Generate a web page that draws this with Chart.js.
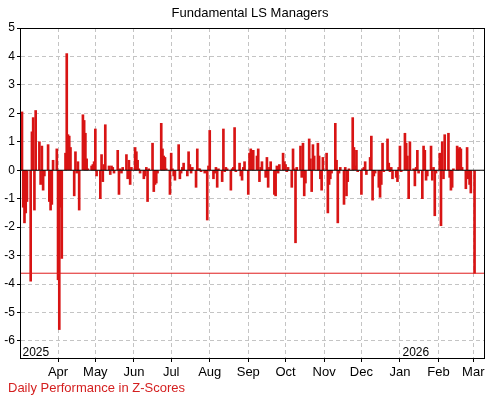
<!DOCTYPE html>
<html>
<head>
<meta charset="utf-8">
<script src="https://cdn.jsdelivr.net/npm/chart.js@4.4.1/dist/chart.umd.min.js"></script>
<style>
  html, body { margin:0; padding:0; background:#fff; }
  #wrap { width:500px; height:399px; position:relative; }
</style>
</head>
<body>
<div id="wrap"><canvas id="chart" width="500" height="399"></canvas></div>
<script>
/* ── 데이터 : 월별 일간 Z-Score (영업일 순서) ───────────────── */
var firstDay = '2025-03-03';
var mar25 = [2.05,-1.3,-1.85,-1.5,-1.1, -3.9,1.35,1.85,-1.4,2.1, 1.0,-0.5,0.85,-0.7,-0.2, 0.9,-1.1,-1.4,-1.2,0.35, 0.75];
var apr25 = [-3.85,-5.6,-1.3,-3.1, 0.6,4.1,1.25,1.2,0.8, -0.9,0.65,-0.1,0.3,-1.4, 1.95,1.75,1.3,0.4,0.05, 0.15,0.2,0.3];
var may25 = [1.45,-0.2, -1.0,0.55,-0.4,0.2,1.6, 0.15,-0.15,0.15,0.1,-0.1, 0.7,-0.85,0.05,-0.1,0.1, 0.55,-0.3,0.35,-0.5,0.1];
var jun25 = [0.8,0.65,0.35,0.05,-0.1, -0.3,-0.2,0.1,-1.1,0.05, 0.95,-0.75,-0.5,-0.45,-0.1, 1.65,0.75,0.5,0.45,0.05, -0.85];
var jul25 = [0.6,0.05,-0.2,-0.35, 0.9,-0.3,-0.1,0.1,0.25, -0.2,0.65,0.2,-0.1,0.1, -0.6,0.75,0.05,0.05,-0.05, -0.1,-0.05,-1.75,0.15];
var aug25 = [1.4, -0.3,-0.1,0.1,-0.6,0.05, -0.4,1.45,-0.05,0.1,0.05, -0.7,0.05,0.1,1.5,-0.05, 0.25,-0.2,-0.35,0.1,0.3];
var sep25 = [-0.85,0.6,0.75,0.05,0.7, 0.5,0.75,-0.4,0.1,0.3, -0.25,0.45,-0.6,0.1,0.3, -0.85,-0.9,0.15,-0.1,0.2, 0.6,0.3];
var oct25 = [0.2,-0.05,0.1, -0.6,0.75,0.05,-2.55,0.1, 0.85,-0.25,0.95,-0.9,-0.45, 1.1,0.4,-0.75,0.9,0.5, 0.95,0.5,-0.3,-0.7,0.45];
var nov25 = [0.6,-1.5,-0.5,-0.3,-0.1, 1.65,0.35,-1.85,-0.1,0.1, -1.2,0.1,-0.9,-0.4,0.05, 1.85,0.8,0.15,0.7,-0.05];
var dec25 = [-0.85,0.05,0.1,0.3,-0.15, 0.45,1.2,-1.05,-0.2,-0.1, -0.6,-0.95,-0.5,0.95,-0.05, 1.1,0.25,-0.05,0.1,-0.3, -0.25,-0.4,0.1];
var jan26 = [0.85,-0.05, 1.3,0.95,0.5,-1.0,1.0, 0.05,-0.55,0.1,0.7,-0.1, -1.0,0.85,0.7,-0.35,-0.2, 0.85,-0.35,0.1,-1.6,-0.1];
var feb26 = [0.6,-1.95,1.0,-0.3,1.25, 1.3,-0.25,-0.7,-0.6,0.05, 0.85,0.75,0.8,0.75,0.1, -0.65,0.8,-0.3,-0.5,-0.8];
var mar26 = [-3.62];

var monthTicks  = ['2025-04-01','2025-05-01','2025-06-01','2025-07-01','2025-08-01','2025-09-01','2025-10-01','2025-11-01','2025-12-01','2026-01-01','2026-02-01','2026-03-01'];
var monthLabels = ['Apr','May','Jun','Jul','Aug','Sep','Oct','Nov','Dec','Jan','Feb','Mar'];
var yTicks = [-6,-5,-4,-3,-2,-1,0,1,2,3,4,5];
var yearMarks = [{ label:'2025', date:'2025-03-01' }, { label:'2026', date:'2026-01-01' }];

/* ── 날짜 → 일수 (2025-03-01 기준) ───────────────────────── */
var BASE = Date.UTC(2025, 2, 1);
function dayNum(s) {
  var p = s.split('-');
  return (Date.UTC(+p[0], +p[1] - 1, +p[2]) - BASE) / 86400000;
}

var values = [].concat(mar25, apr25, may25, jun25, jul25, aug25, sep25, oct25, nov25, dec25, jan26, feb26, mar26);
var points = [];
var d = dayNum(firstDay);
values.forEach(function(v) {
  var wd = new Date(BASE + d * 86400000).getUTCDay();
  while (wd === 0 || wd === 6) { d++; wd = new Date(BASE + d * 86400000).getUTCDay(); }
  points.push({ x: d, y: v });
  d++;
});

var X_MIN = 0.4, X_MAX = 373.6;
var lastVal = values[values.length - 1];
var tickDays = monthTicks.map(dayNum);

/* ── 테두리 / 텍스트 플러그인 ───────────────────────────── */
var decor = {
  id: 'decor',
  afterDraw: function(chart) {
    var ctx = chart.ctx, a = chart.chartArea, xs = chart.scales.x;
    ctx.save();
    ctx.strokeStyle = '#000';
    ctx.lineWidth = 1;
    ctx.strokeRect(Math.round(a.left) + 0.5, Math.round(a.top) + 0.5, Math.round(a.right - a.left), Math.round(a.bottom - a.top));

    ctx.fillStyle = '#000';
    ctx.font = '12px "Liberation Sans", Arial, sans-serif';
    ctx.textBaseline = 'alphabetic';
    ctx.textAlign = 'left';
    yearMarks.forEach(function(y) {
      var px = Math.max(xs.getPixelForValue(dayNum(y.date)), a.left);
      ctx.fillText(y.label, px + 2.5, a.bottom - 2);
    });

    ctx.font = '13px "Liberation Sans", Arial, sans-serif';
    ctx.textAlign = 'center';
    ctx.fillText('Fundamental LS Managers', 250, 17);

    ctx.fillStyle = '#d41f1f';
    ctx.textAlign = 'left';
    ctx.fillText('Daily Performance in Z-Scores', 8, 392);
    ctx.restore();
  }
};

/* ── 차트 ─────────────────────────────────────────────────── */
new Chart(document.getElementById('chart'), {
  type: 'bar',
  data: {
    datasets: [
      { type:'line', data:[{x:X_MIN, y:0}, {x:X_MAX, y:0}], borderColor:'#000', borderWidth:1, pointRadius:0, order:0 },
      { type:'line', data:[{x:X_MIN, y:lastVal}, {x:X_MAX, y:lastVal}], borderColor:'#e01b1b', borderWidth:1, pointRadius:0, order:1 },
      { type:'bar', data:points, backgroundColor:'#d81414', barThickness:2, order:2 }
    ]
  },
  options: {
    responsive: false,
    animation: false,
    layout: { padding: { left:0, top:28, right:16, bottom:0 } },
    plugins: { legend: { display:false }, tooltip: { enabled:false }, title: { display:false } },
    scales: {
      x: {
        type: 'linear', min: X_MIN, max: X_MAX, offset: false,
        afterBuildTicks: function(s) { s.ticks = tickDays.map(function(v) { return { value: v }; }); },
        afterFit: function(s) { s.height = 41; },
        ticks: {
          autoSkip: false, maxRotation: 0, padding: 3, color: '#000',
          font: { family: '"Liberation Sans", Arial, sans-serif', size: 13 },
          callback: function(v) { var i = tickDays.indexOf(v); return i >= 0 ? monthLabels[i] : ''; }
        },
        grid: { offset:false, color:'#c4c4c4', tickColor:'#000', tickLength:4, tickBorderDash:[] },
        border: { display:true, color:'#000', width:1, dash:[4,3] }
      },
      y: {
        min: -6.6, max: 5,
        afterBuildTicks: function(s) { s.ticks = yTicks.map(function(v) { return { value: v }; }); },
        afterFit: function(s) { s.width = 20; },
        ticks: {
          padding: 2, color: '#000',
          font: { family: '"Liberation Sans", Arial, sans-serif', size: 12 }
        },
        grid: { color:'#c4c4c4', tickColor:'#000', tickLength:3, tickBorderDash:[] },
        border: { display:true, color:'#000', width:1, dash:[4,3] }
      }
    }
  },
  plugins: [decor]
});
</script>
</body>
</html>
